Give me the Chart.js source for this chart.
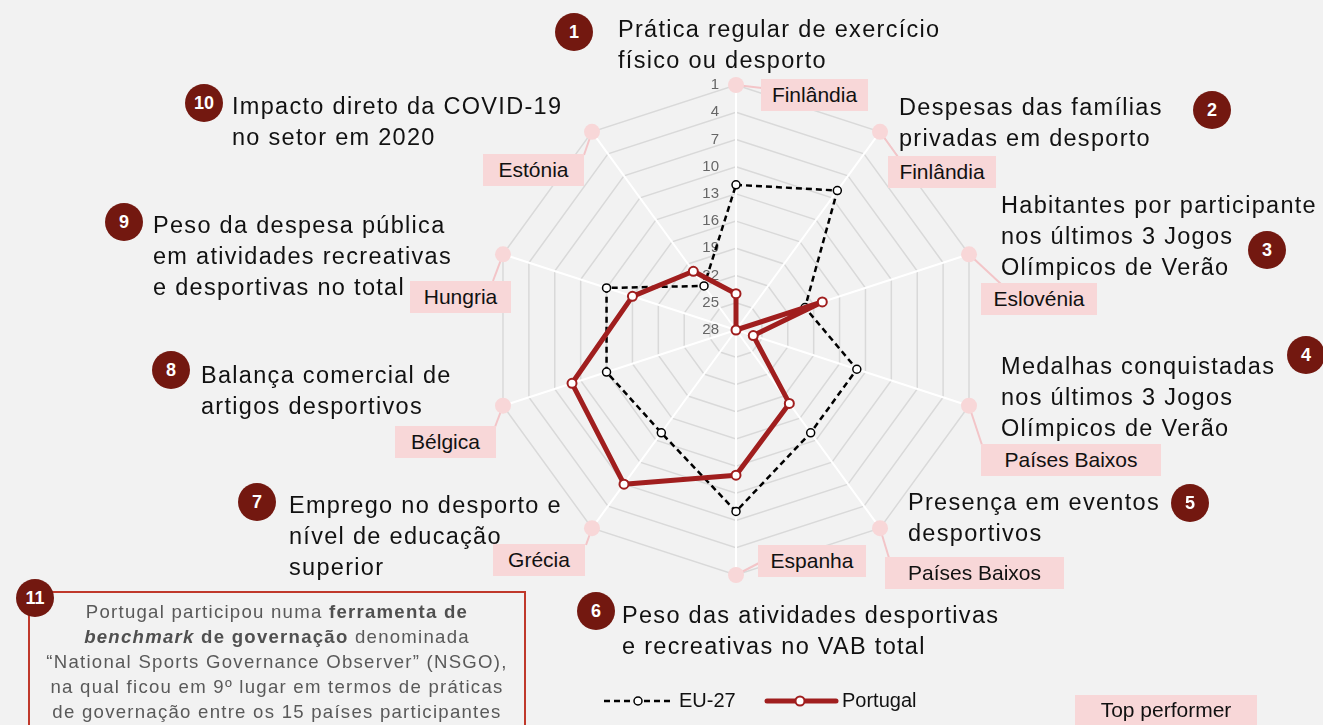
<!DOCTYPE html>
<html>
<head>
<meta charset="utf-8">
<script src="https://cdn.jsdelivr.net/npm/chart.js@4.4.1/dist/chart.umd.min.js"></script>
<style>
html,body{margin:0;padding:0;background:#f2f2f2;}
#wrap{position:relative;width:1323px;height:725px;overflow:hidden;background:#f2f2f2;font-family:"Liberation Sans",Arial,sans-serif;}
#c{position:absolute;left:0;top:0;}
.title{position:absolute;font-size:23.5px;letter-spacing:1.3px;line-height:31px;color:#111;white-space:nowrap;}
.num{position:absolute;width:38px;height:38px;border-radius:50%;background:#731810;color:#fff;font-weight:bold;font-size:18px;line-height:38px;text-align:center;}
.tp{position:absolute;height:32px;line-height:32px;background:#f8d7d8;font-size:21px;text-align:center;color:#111;white-space:nowrap;}
#box11{position:absolute;left:28px;top:591px;width:498px;height:160px;border:2px solid #c0392b;box-sizing:border-box;}
#box11txt{position:absolute;left:28px;top:599px;width:498px;text-align:center;font-size:18.6px;letter-spacing:1.25px;line-height:25px;color:#595959;white-space:nowrap;}
#box11txt b{color:#505050;}
.leg{position:absolute;font-size:20px;line-height:24px;color:#111;white-space:nowrap;}
svg{position:absolute;left:0;top:0;}
</style>
</head>
<body>
<div id="wrap">
<canvas id="c" width="1323" height="725"></canvas>
<div id="box11"></div>
</div>
<script>
// ---- data ----
const axisTitles = [
  ["Prática regular de exercício","físico ou desporto"],
  ["Despesas das famílias","privadas em desporto"],
  ["Habitantes por participante","nos últimos 3 Jogos","Olímpicos de Verão"],
  ["Medalhas conquistadas","nos últimos 3 Jogos","Olímpicos de Verão"],
  ["Presença em eventos","desportivos"],
  ["Peso das atividades desportivas","e recreativas no VAB total"],
  ["Emprego no desporto e","nível de educação","superior"],
  ["Balança comercial de","artigos desportivos"],
  ["Peso da despesa pública","em atividades recreativas","e desportivas no total"],
  ["Impacto direto da COVID-19","no setor em 2020"]
];
const topPerformers = ["Finlândia","Finlândia","Eslovénia","Países Baixos","Países Baixos","Espanha","Grécia","Bélgica","Hungria","Estónia"];
const portugal = [24, 28, 18, 26, 18, 12, 7, 9, 16, 20];
const eu27     = [12, 9, 20, 14, 14, 8, 14, 13, 13, 22];
const topRank  = [1, 1, 1, 1, 1, 1, 1, 1, 1, 1];
const rankTicks = [1, 4, 7, 10, 13, 16, 19, 22, 25, 28];

// ---- layout (annotation positions) ----
const titlePos = [[618,14],[899,92],[1001,190],[1001,351],[908,487],[622,600],[289,490],[201,360],[153,210],[232,91]];
const numPos = [[574,32],[1212,110],[1267,250],[1306,355],[1190,503],[596,611],[257,502],[171,370],[124,222],[204,103]];
const tpBox = [[761,79,107],[888,156,108],[981,283,116],[981,444,180],[885,557,179],[758,545,108],[493,544,92],[395,426,101],[410,281,101],[483,154,101]];
const connEnd = [[762,88],[898,157],[1001,284],[982,445],[889,558],[759,563],[586,545],[495,427],[493,281],[584,155]];

const wrap = document.getElementById('wrap');
function add(cls, html, style){ const d=document.createElement('div'); if(cls) d.className=cls; d.innerHTML=html; Object.assign(d.style, style); wrap.appendChild(d); return d; }

axisTitles.forEach((t,i)=>{
  add('title', t.join('<br>'), {left:titlePos[i][0]+'px', top:titlePos[i][1]+'px'});
  add('num', String(i+1), {left:(numPos[i][0]-19)+'px', top:(numPos[i][1]-19)+'px'});
  add('tp', topPerformers[i], {left:tpBox[i][0]+'px', top:tpBox[i][1]+'px', width:tpBox[i][2]+'px'});
});

// box 11
const t11 = add('', 'Portugal participou numa <b>ferramenta de</b><br><b><i>benchmark</i> de governação</b> denominada<br>“National Sports Governance Observer” (NSGO),<br>na qual ficou em 9º lugar em termos de práticas<br>de governação entre os 15 países participantes', {});
t11.id='box11txt';
add('num', '11', {left:(35-19)+'px', top:(598-19)+'px'});

// legend
const svgNS='http://www.w3.org/2000/svg';
const svg=document.createElementNS(svgNS,'svg');
svg.setAttribute('width','1323'); svg.setAttribute('height','725');
svg.innerHTML =
 '<line x1="604" y1="701" x2="672" y2="701" stroke="#000" stroke-width="2.5" stroke-dasharray="6,4"/>'+
 '<circle cx="638" cy="701" r="4" fill="#fff" stroke="#000" stroke-width="1.5"/>'+
 '<line x1="767" y1="701" x2="836" y2="701" stroke="#a01e1e" stroke-width="5" stroke-linecap="round"/>'+
 '<circle cx="800" cy="701" r="4.5" fill="#fff" stroke="#a01e1e" stroke-width="2"/>';
wrap.appendChild(svg);
add('leg','EU-27',{left:'679px',top:'688px'});
add('leg','Portugal',{left:'842px',top:'688px'});
add('tp','Top performer',{left:'1075px',top:'695px',width:'182px',height:'30px',lineHeight:'30px'});

// ---- chart ----
const annot = {
  id:'annot',
  beforeDatasetsDraw(chart){
    const s = chart.scales.r, c = chart.ctx;
    c.save();
    c.strokeStyle = '#f3c5c8'; c.lineWidth = 2;
    connEnd.forEach((e,i)=>{
      const p = s.getPointPositionForValue(i, topRank[i]);
      c.beginPath(); c.moveTo(p.x,p.y); c.lineTo(e[0],e[1]); c.stroke();
    });
    c.font = '15px "Liberation Sans", Arial, sans-serif';
    c.fillStyle = '#666'; c.textAlign = 'right'; c.textBaseline = 'middle';
    s.ticks.forEach(t=>{
      const d = s.getDistanceFromCenterForValue(t.value);
      c.fillText(String(t.value), s.xCenter-17, s.yCenter-d);
    });
    c.restore();
  }
};

new Chart(document.getElementById('c'), {
  type:'radar',
  data:{
    labels: axisTitles.map(t=>t.join(' ')),
    datasets:[
      {label:'Portugal', data:portugal, borderColor:'#a01e1e', borderWidth:5, borderJoinStyle:'round',
       pointRadius:4.5, pointBorderWidth:2, pointBackgroundColor:'#fff', pointBorderColor:'#a01e1e', fill:false, tension:0},
      {label:'EU-27', data:eu27, borderColor:'#000', borderWidth:2.5, borderDash:[6,4],
       pointRadius:4, pointBorderWidth:1.5, pointBackgroundColor:'#fff', pointBorderColor:'#000', fill:false, tension:0},
      {label:'Top performer', data:topRank, showLine:false, borderWidth:0, borderColor:'rgba(0,0,0,0)',
       pointRadius:8, pointBorderWidth:0, pointBackgroundColor:'#f8d7d8', pointBorderColor:'#f8d7d8', fill:false}
    ]
  },
  options:{
    responsive:false, animation:false, devicePixelRatio:1,
    layout:{padding:{left:491,right:342,top:85,bottom:150}},
    plugins:{legend:{display:false}, tooltip:{enabled:false}},
    scales:{
      r:{
        reverse:true, min:1, max:28,
        afterBuildTicks(scale){ scale.ticks = rankTicks.slice().reverse().map(v=>({value:v})); },
        ticks:{display:false},
        pointLabels:{display:false},
        grid:{color:'#d9d9d9', lineWidth:1.5},
        angleLines:{color:'#ffffff', lineWidth:2}
      }
    }
  },
  plugins:[annot]
});
</script>
</body>
</html>
